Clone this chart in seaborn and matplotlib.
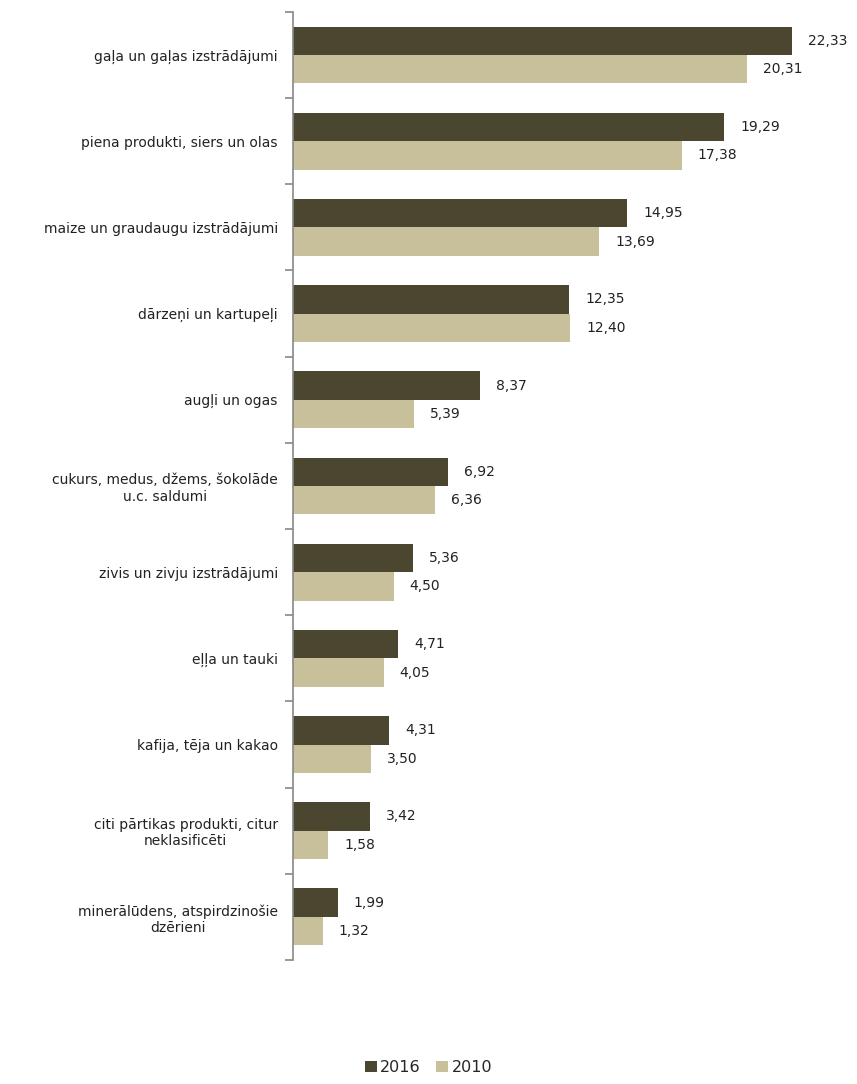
import pandas as pd
import matplotlib.pyplot as plt
import seaborn as sns
import numpy as np

# ==========================================
# DATA
# ==========================================
categories = [
    "gaļa un gaļas izstrādājumi",
    "piena produkti, siers un olas",
    "maize un graudaugu izstrādājumi",
    "dārzeņi un kartupeļi",
    "augļi un ogas",
    "cukurs, medus, džems, šokolāde\nu.c. saldumi",
    "zivis un zivju izstrādājumi",
    "eļļa un tauki",
    "kafija, tēja un kakao",
    "citi pārtikas produkti, citur\nneklasificēti",
    "minerālūdens, atspirdzinošie\ndzērieni",
]
years = ["2016", "2010"]
values_2016 = [22.33, 19.29, 14.95, 12.35, 8.37, 6.92, 5.36, 4.71, 4.31, 3.42, 1.99]
values_2010 = [20.31, 17.38, 13.69, 12.40, 5.39, 6.36, 4.50, 4.05, 3.50, 1.58, 1.32]
colors = ["#4b4630", "#c8bf9b"]

df = pd.DataFrame({
    "Kategorija": categories * 2,
    "Gads": [years[0]] * len(categories) + [years[1]] * len(categories),
    "Vērtība": values_2016 + values_2010,
})

# ==========================================
# PLOT
# ==========================================
sns.set_theme(style="white")
plt.rcParams['font.family'] = ['DejaVu Sans']

fig = plt.figure(figsize=(8.57, 10.84), dpi=100)
ax = fig.add_axes([0.342, 0.1144, 0.652, 0.8746])

sns.barplot(data=df, y="Kategorija", x="Vērtība", hue="Gads", hue_order=years,
            palette=colors, orient="h", width=0.66, saturation=1, linewidth=0,
            ax=ax, legend=True)

for container in ax.containers:
    labels = [f"{v:.2f}".replace(".", ",") for v in container.datavalues]
    ax.bar_label(container, labels=labels, padding=11.5, fontsize=10, color="#222222")

ax.set_xlim(0, 25)
ax.set_ylim(len(categories) - 0.5, -0.5)
ax.set_xlabel("")
ax.set_ylabel("")
ax.set_xticks([])
ax.tick_params(axis="y", which="major", length=0, labelsize=10, pad=11, labelcolor="#222222")
ax.set_yticks(np.arange(-0.5, len(categories)), minor=True)
ax.tick_params(axis="y", which="minor", length=6, width=1.2, color="#888888", left=True)
for lbl in ax.get_yticklabels():
    lbl.set_horizontalalignment("right")
    lbl.set_multialignment("center")

for side in ["top", "right", "bottom"]:
    ax.spines[side].set_visible(False)
ax.spines["left"].set_color("#888888")
ax.spines["left"].set_linewidth(1.2)

handles, labels = ax.get_legend_handles_labels()
ax.get_legend().remove()
fig.legend(handles, labels, loc="lower center", bbox_to_anchor=(0.5, -0.005), ncol=2,
           frameon=False, fontsize=11.5, handlelength=0.75, handleheight=0.75,
           handletextpad=0.2, columnspacing=1.0)

fig.savefig("out.png", dpi=100)
